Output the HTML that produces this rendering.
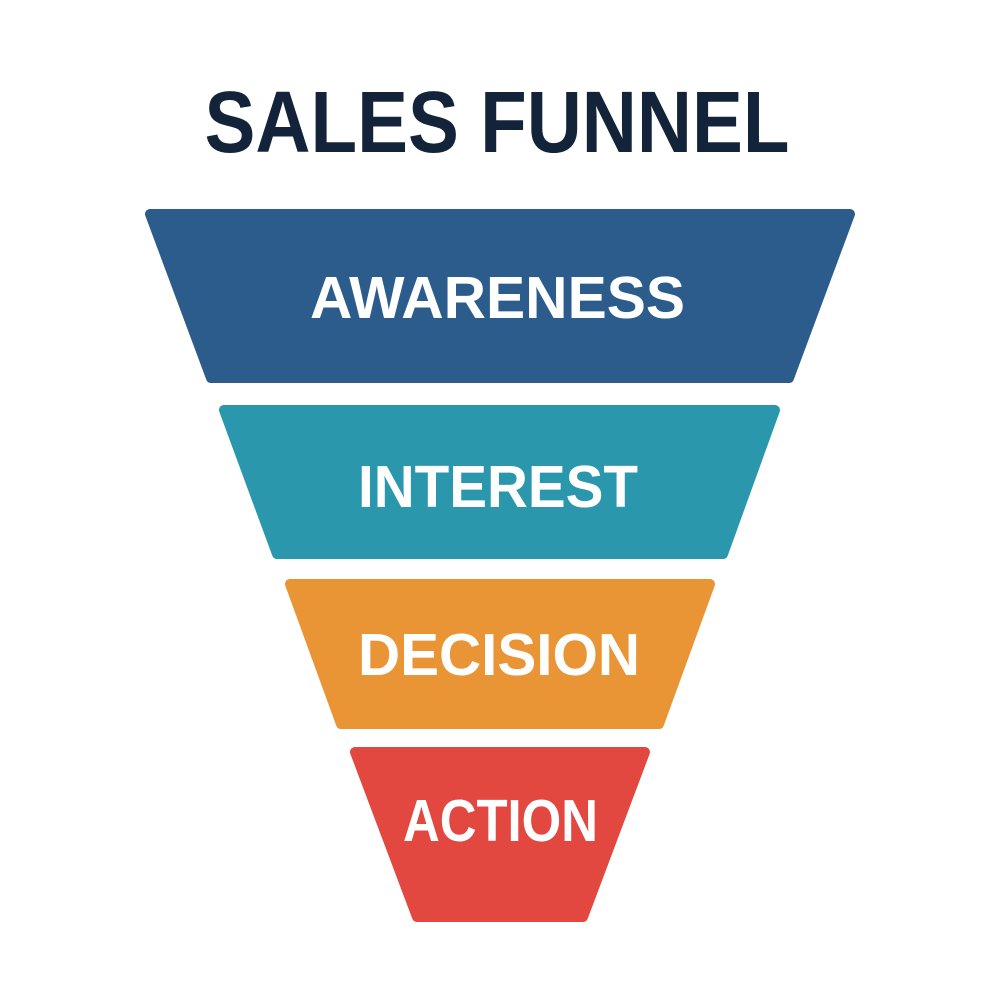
<!DOCTYPE html>
<html><head><meta charset="utf-8"><style>html,body{margin:0;padding:0;background:#fff}svg{display:block}</style></head>
<body>
<svg width="1000" height="1000" viewBox="0 0 1000 1000" xmlns="http://www.w3.org/2000/svg">
<rect width="1000" height="1000" fill="#fff"/>
<text x="497" y="152" text-anchor="middle" font-family="Liberation Sans, sans-serif" font-weight="bold" font-size="87" fill="#13243a" textLength="585" lengthAdjust="spacingAndGlyphs">SALES FUNNEL</text>
<g stroke-linejoin="round" stroke-width="10">
<polygon points="150,214 850,214 789,378 211,378" fill="#2b5c8c" stroke="#2b5c8c"/>
<polygon points="224,410 775,410 723,554 277,554" fill="#2b97ad" stroke="#2b97ad"/>
<polygon points="290,584 710,584 659,724 341,724" fill="#e99535" stroke="#e99535"/>
<polygon points="355,752 645,752 583,917 417,917" fill="#e34840" stroke="#e34840"/>
</g>
<g font-family="Liberation Sans, sans-serif" font-weight="bold" font-size="59" fill="#fff" text-anchor="middle">
<text x="497.5" y="318" textLength="375" lengthAdjust="spacingAndGlyphs">AWARENESS</text>
<text x="498" y="507" textLength="280" lengthAdjust="spacingAndGlyphs">INTEREST</text>
<text x="499" y="675" textLength="282" lengthAdjust="spacingAndGlyphs">DECISION</text>
<text x="500.5" y="841" textLength="195" lengthAdjust="spacingAndGlyphs">ACTION</text>
</g>
</svg>
</body></html>
